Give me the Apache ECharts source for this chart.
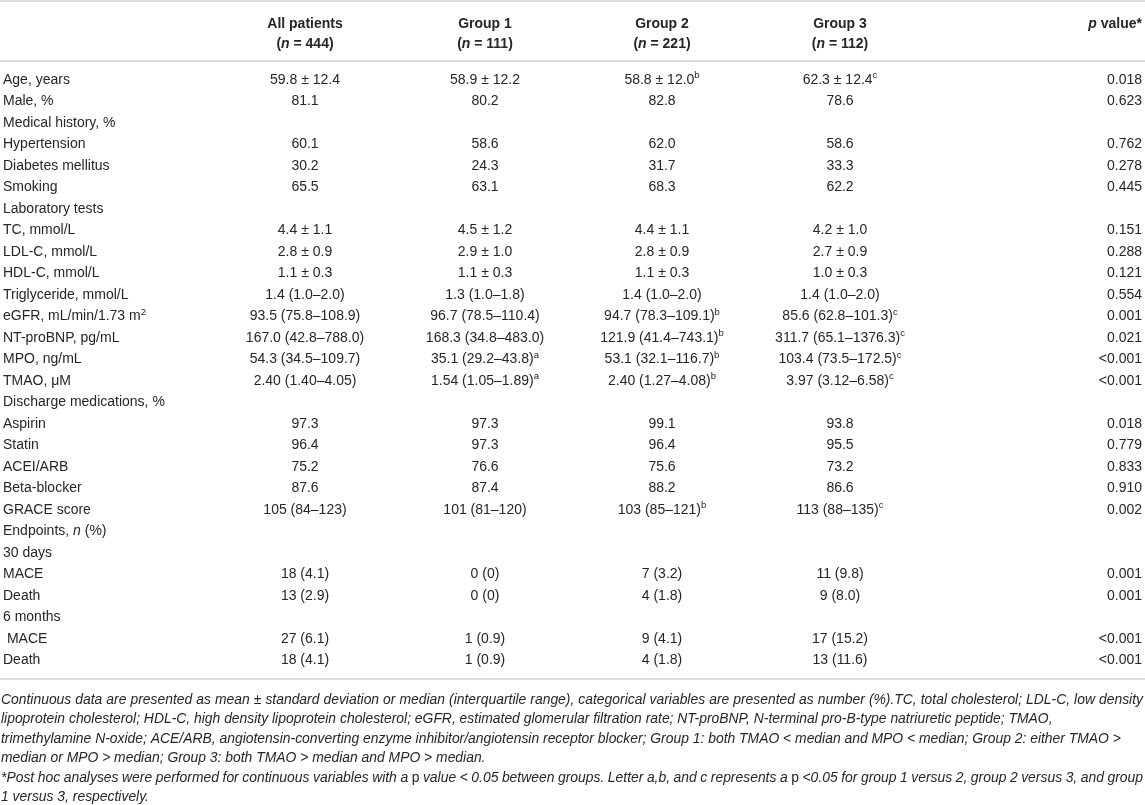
<!DOCTYPE html>
<html>
<head>
<meta charset="utf-8">
<script src="https://cdn.jsdelivr.net/npm/echarts@6/dist/echarts.min.js"></script>
<style>
  html, body { margin: 0; padding: 0; background: #fff; }
  #main { width: 1145px; height: 805px; }
</style>
</head>
<body>
<div id="main"></div>
<script>
// table content
var headTop = ['', 'All patients', 'Group 1', 'Group 2', 'Group 3', '{hbi|p} value*'];
var headBottom = ['', '({hbi|n} = 444)', '({hbi|n} = 111)', '({hbi|n} = 221)', '({hbi|n} = 112)', ''];

var rowLabels = [
    'Age, years', 'Male, %', 'Medical history, %', 'Hypertension', 'Diabetes mellitus', 'Smoking',
    'Laboratory tests', 'TC, mmol/L', 'LDL-C, mmol/L', 'HDL-C, mmol/L', 'Triglyceride, mmol/L',
    'eGFR, mL/min/1.73 m{sup|2}', 'NT-proBNP, pg/mL', 'MPO, ng/mL', 'TMAO, μM',
    'Discharge medications, %', 'Aspirin', 'Statin', 'ACEI/ARB', 'Beta-blocker', 'GRACE score',
    'Endpoints, {it|n} (%)', '30 days', 'MACE', 'Death', '6 months', ' MACE', 'Death'
];
var allPatients = [
    '59.8 ± 12.4', '81.1', '', '60.1', '30.2', '65.5',
    '', '4.4 ± 1.1', '2.8 ± 0.9', '1.1 ± 0.3', '1.4 (1.0–2.0)',
    '93.5 (75.8–108.9)', '167.0 (42.8–788.0)', '54.3 (34.5–109.7)', '2.40 (1.40–4.05)',
    '', '97.3', '96.4', '75.2', '87.6', '105 (84–123)',
    '', '', '18 (4.1)', '13 (2.9)', '', '27 (6.1)', '18 (4.1)'
];
var group1 = [
    '58.9 ± 12.2', '80.2', '', '58.6', '24.3', '63.1',
    '', '4.5 ± 1.2', '2.9 ± 1.0', '1.1 ± 0.3', '1.3 (1.0–1.8)',
    '96.7 (78.5–110.4)', '168.3 (34.8–483.0)', '35.1 (29.2–43.8){sup|a}', '1.54 (1.05–1.89){sup|a}',
    '', '97.3', '97.3', '76.6', '87.4', '101 (81–120)',
    '', '', '0 (0)', '0 (0)', '', '1 (0.9)', '1 (0.9)'
];
var group2 = [
    '58.8 ± 12.0{sup|b}', '82.8', '', '62.0', '31.7', '68.3',
    '', '4.4 ± 1.1', '2.8 ± 0.9', '1.1 ± 0.3', '1.4 (1.0–2.0)',
    '94.7 (78.3–109.1){sup|b}', '121.9 (41.4–743.1){sup|b}', '53.1 (32.1–116.7){sup|b}', '2.40 (1.27–4.08){sup|b}',
    '', '99.1', '96.4', '75.6', '88.2', '103 (85–121){sup|b}',
    '', '', '7 (3.2)', '4 (1.8)', '', '9 (4.1)', '4 (1.8)'
];
var group3 = [
    '62.3 ± 12.4{sup|c}', '78.6', '', '58.6', '33.3', '62.2',
    '', '4.2 ± 1.0', '2.7 ± 0.9', '1.0 ± 0.3', '1.4 (1.0–2.0)',
    '85.6 (62.8–101.3){sup|c}', '311.7 (65.1–1376.3){sup|c}', '103.4 (73.5–172.5){sup|c}', '3.97 (3.12–6.58){sup|c}',
    '', '93.8', '95.5', '73.2', '86.6', '113 (88–135){sup|c}',
    '', '', '11 (9.8)', '9 (8.0)', '', '17 (15.2)', '13 (11.6)'
];
var pValues = [
    '0.018', '0.623', '', '0.762', '0.278', '0.445',
    '', '0.151', '0.288', '0.121', '0.554',
    '0.001', '0.021', '<0.001', '<0.001',
    '', '0.018', '0.779', '0.833', '0.910', '0.002',
    '', '', '0.001', '0.001', '', '<0.001', '<0.001'
];
var footnotes = [
    'Continuous data are presented as mean ± standard deviation or median (interquartile range), categorical variables are presented as number (%).TC, total cholesterol; LDL-C, low density',
    'lipoprotein cholesterol; HDL-C, high density lipoprotein cholesterol; eGFR, estimated glomerular filtration rate; NT-proBNP, N-terminal pro-B-type natriuretic peptide; TMAO,',
    'trimethylamine N-oxide; ACE/ARB, angiotensin-converting enzyme inhibitor/angiotensin receptor blocker; Group 1: both TMAO < median and MPO < median; Group 2: either TMAO >',
    'median or MPO > median; Group 3: both TMAO > median and MPO > median.',
    '*Post hoc analyses were performed for continuous variables with a {up|p} value < 0.05 between groups. Letter a,b, and c represents a {up|p} <0.05 for group 1 versus 2, group 2 versus 3, and group',
    '1 versus 3, respectively.'
];
var footJustify = [true, false, false, false, true, false];

// layout
var W = 1145;
var colX = [3, 305, 485, 662, 840, 1142];
var colAlign = ['left', 'center', 'center', 'center', 'center', 'right'];
var FONT = '"Liberation Sans", Arial, Helvetica, sans-serif';
var INK = '#262626';
var RULE = '#dcdcdc';
var NOTE_SIZE = 13.9;

var bodyCols = [rowLabels, allPatients, group1, group2, group3, pValues];
var headRows = [headTop, headBottom];

var bodyCells = [];
var bodyText = [];
bodyCols.forEach(function (col, c) {
    col.forEach(function (txt, r) {
        if (txt === '') return;
        bodyCells.push([c, r]);
        bodyText.push(txt);
    });
});
var headCells = [];
var headText = [];
headRows.forEach(function (row, r) {
    row.forEach(function (txt, c) {
        if (txt === '') return;
        headCells.push([c, r]);
        headText.push(txt);
    });
});

var richStyles = {
    sup: { fontSize: 9.5, fontFamily: FONT, fill: INK, padding: [0, 0, 8, 0] },
    it: { fontSize: 14, fontFamily: FONT, fontStyle: 'italic', fill: INK },
    hbi: { fontSize: 14, fontFamily: FONT, fontStyle: 'italic', fontWeight: 'bold', fill: INK }
};

function makeRender(texts, bold) {
    return function (params, api) {
        var c = api.value(0);
        var r = api.value(1);
        var pt = api.coord([colX[c], r]);
        return {
            type: 'text',
            x: pt[0],
            y: pt[1],
            style: {
                text: texts[params.dataIndex],
                fontSize: 14,
                fontFamily: FONT,
                fontWeight: bold ? 'bold' : 'normal',
                fill: INK,
                align: colAlign[c],
                verticalAlign: 'middle',
                rich: richStyles
            }
        };
    };
}

var rowIdx = rowLabels.map(function (d, i) { return i; });

// measuring for justified notes
var ctx = document.createElement('canvas').getContext('2d');
function wordWidth(w) {
    if (w.indexOf('{up|') === 0) {
        ctx.font = 'normal ' + NOTE_SIZE + 'px ' + FONT;
        return ctx.measureText(w.slice(4, -1)).width;
    }
    ctx.font = 'italic ' + NOTE_SIZE + 'px ' + FONT;
    return ctx.measureText(w).width;
}
function noteText(txt, x, y) {
    return {
        type: 'text',
        x: x,
        y: y,
        style: {
            text: txt,
            fontSize: NOTE_SIZE,
            fontFamily: FONT,
            fontStyle: 'italic',
            fill: INK,
            verticalAlign: 'middle',
            rich: {
                up: { fontSize: NOTE_SIZE, fontFamily: FONT, fontStyle: 'normal', fill: INK }
            }
        }
    };
}

var graphics = [];
[1, 61, 679].forEach(function (y) {
    graphics.push({
        type: 'line',
        shape: { x1: 0, y1: y, x2: W, y2: y },
        style: { stroke: RULE, lineWidth: 2 }
    });
});
footnotes.forEach(function (line, i) {
    var y = 700 + i * 19.5;
    var x0 = 1, x1 = 1143;
    if (!footJustify[i]) {
        graphics.push(noteText(line, x0, y));
        return;
    }
    var words = line.split(' ');
    var widths = words.map(wordWidth);
    var total = widths.reduce(function (a, b) { return a + b; }, 0);
    var gap = (x1 - x0 - total) / (words.length - 1);
    var x = x0;
    words.forEach(function (w, k) {
        graphics.push(noteText(w, x, y));
        x += widths[k] + gap;
    });
});

var dom = document.getElementById('main');
var myChart = echarts.init(dom);
var option = {
    backgroundColor: '#fff',
    animation: false,
    grid: [
        { left: 0, right: 0, top: 14, height: 40 },
        { left: 0, right: 0, top: 69, height: 602 }
    ],
    xAxis: [
        { type: 'value', gridIndex: 0, min: 0, max: W, show: false },
        { type: 'value', gridIndex: 1, min: 0, max: W, show: false }
    ],
    yAxis: [
        { type: 'category', gridIndex: 0, data: ['top', 'bottom'], inverse: true, show: false },
        { type: 'category', gridIndex: 1, data: rowIdx, inverse: true, show: false }
    ],
    graphic: graphics,
    series: [
        {
            type: 'custom',
            name: 'header',
            xAxisIndex: 0,
            yAxisIndex: 0,
            data: headCells,
            renderItem: makeRender(headText, true),
            silent: true
        },
        {
            type: 'custom',
            name: 'body',
            xAxisIndex: 1,
            yAxisIndex: 1,
            data: bodyCells,
            renderItem: makeRender(bodyText, false),
            silent: true
        }
    ]
};
myChart.setOption(option);
</script>
</body>
</html>
